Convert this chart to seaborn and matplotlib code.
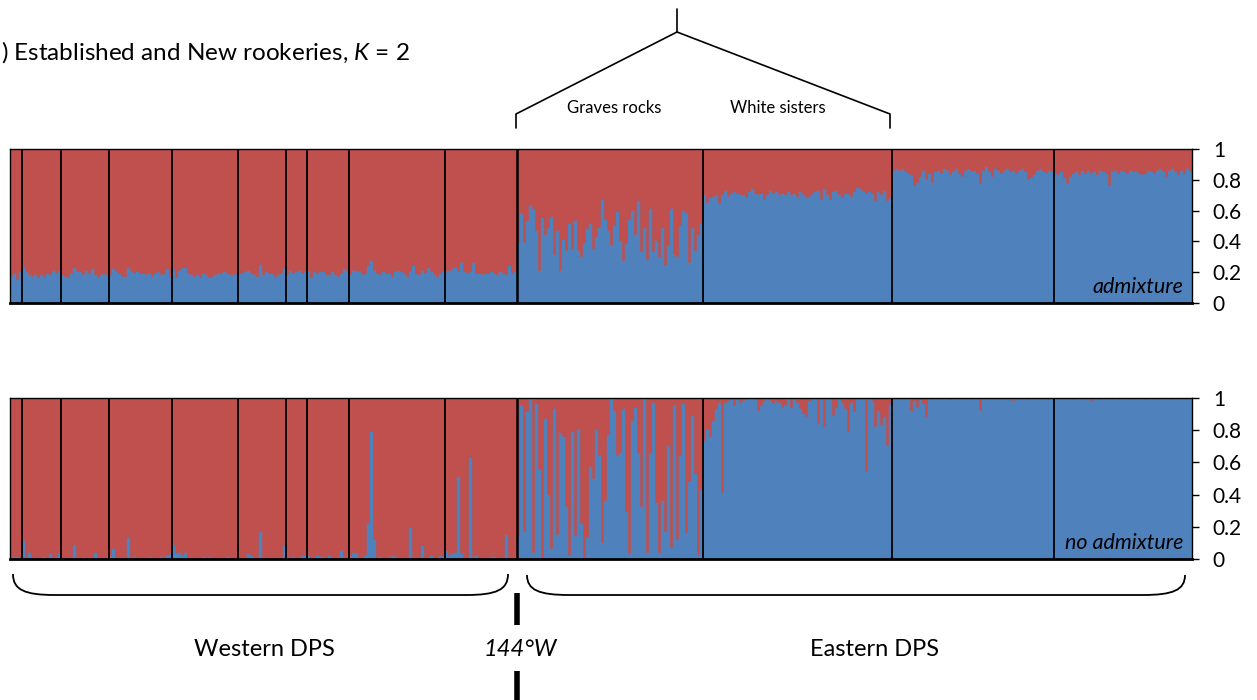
"""STRUCTURE-style admixture bar plot, K = 2, two runs (admixture / no admixture)."""
import numpy as np
import pandas as pd
import matplotlib
matplotlib.use("Agg")
import matplotlib.pyplot as plt
from matplotlib.path import Path
from matplotlib.patches import PathPatch
import seaborn as sns

sns.set_style("white")
plt.rcParams["font.family"] = ["Lato", "DejaVu Sans"]
plt.rcParams["mathtext.fontset"] = "custom"
plt.rcParams["mathtext.rm"] = "Lato"
plt.rcParams["mathtext.it"] = "Lato:italic"
plt.rcParams["text.color"] = "black"

RED = "#C0504D"
BLUE = "#4F81BD"

# ---------------------------------------------------------------------------
# Data: membership in the blue cluster per individual, one list per rookery
# (west -> east).  Red = 1 - blue.
# ---------------------------------------------------------------------------
admix = [
    [0.17, 0.19, 0.15, 0.20],
    [0.23, 0.20, 0.18, 0.17, 0.18, 0.16, 0.18, 0.17, 0.19, 0.18, 0.21, 0.19, 0.21],
    [0.18, 0.17, 0.16, 0.19, 0.23, 0.20, 0.20, 0.18, 0.21, 0.19, 0.22, 0.18, 0.16, 0.18, 0.19, 0.18],
    [0.18, 0.22, 0.20, 0.19, 0.17, 0.17, 0.23, 0.20, 0.19, 0.20, 0.19, 0.19, 0.18, 0.19, 0.17, 0.19,
     0.20, 0.18, 0.19, 0.22, 0.17],
    [0.22, 0.16, 0.21, 0.23, 0.23, 0.19, 0.18, 0.17, 0.18, 0.16, 0.19, 0.18, 0.16, 0.17, 0.18, 0.19,
     0.19, 0.20, 0.19, 0.18, 0.18, 0.19],
    [0.19, 0.19, 0.20, 0.21, 0.19, 0.18, 0.17, 0.25, 0.18, 0.20, 0.19, 0.19, 0.17, 0.18, 0.19, 0.23],
    [0.18, 0.21, 0.19, 0.20, 0.21, 0.19, 0.20],
    [0.21, 0.16, 0.20, 0.19, 0.20, 0.20, 0.18, 0.18, 0.20, 0.18, 0.17, 0.19, 0.22, 0.20],
    [0.18, 0.21, 0.21, 0.20, 0.18, 0.19, 0.24, 0.27, 0.21, 0.19, 0.18, 0.20, 0.19, 0.19, 0.17, 0.20,
     0.21, 0.20, 0.19, 0.17, 0.20, 0.24, 0.19, 0.18, 0.21, 0.19, 0.23, 0.20, 0.18, 0.17, 0.19, 0.20],
    [0.21, 0.21, 0.22, 0.23, 0.20, 0.26, 0.20, 0.19, 0.20, 0.26, 0.19, 0.19, 0.18, 0.19, 0.19, 0.20,
     0.19, 0.18, 0.20, 0.19, 0.18, 0.24, 0.19, 0.20],
    # Graves rocks
    [0.39, 0.58, 0.39, 0.53, 0.63, 0.61, 0.47, 0.21, 0.55, 0.44, 0.49, 0.56, 0.31, 0.47, 0.21, 0.41,
     0.34, 0.51, 0.35, 0.53, 0.34, 0.30, 0.39, 0.48, 0.51, 0.35, 0.43, 0.49, 0.67, 0.54, 0.47, 0.37,
     0.50, 0.59, 0.40, 0.27, 0.38, 0.54, 0.60, 0.44, 0.66, 0.33, 0.49, 0.28, 0.61, 0.33, 0.40, 0.29,
     0.49, 0.24, 0.37, 0.61, 0.31, 0.30, 0.50, 0.60, 0.58, 0.26, 0.49, 0.34, 0.44, 0.51],
    # White sisters
    [0.70, 0.65, 0.68, 0.69, 0.70, 0.64, 0.70, 0.73, 0.69, 0.71, 0.72, 0.71, 0.70, 0.70, 0.68, 0.72,
     0.74, 0.71, 0.70, 0.71, 0.67, 0.70, 0.73, 0.71, 0.72, 0.70, 0.71, 0.70, 0.72, 0.70, 0.71, 0.69,
     0.72, 0.70, 0.68, 0.69, 0.71, 0.72, 0.73, 0.67, 0.74, 0.70, 0.67, 0.72, 0.73, 0.70, 0.68, 0.71,
     0.71, 0.69, 0.72, 0.75, 0.74, 0.73, 0.71, 0.72, 0.71, 0.66, 0.72, 0.70, 0.73, 0.66, 0.69],
    [0.86, 0.87, 0.86, 0.87, 0.85, 0.84, 0.83, 0.76, 0.78, 0.82, 0.86, 0.80, 0.84, 0.78, 0.85, 0.86,
     0.84, 0.87, 0.86, 0.83, 0.85, 0.87, 0.84, 0.82, 0.86, 0.87, 0.85, 0.86, 0.84, 0.77, 0.86, 0.88,
     0.85, 0.82, 0.87, 0.86, 0.84, 0.86, 0.87, 0.85, 0.86, 0.84, 0.86, 0.87, 0.85, 0.80, 0.81, 0.83,
     0.86, 0.87, 0.85, 0.84, 0.86, 0.85],
    [0.84, 0.83, 0.85, 0.81, 0.77, 0.82, 0.84, 0.85, 0.83, 0.86, 0.84, 0.86, 0.84, 0.85, 0.83, 0.86,
     0.85, 0.84, 0.76, 0.85, 0.86, 0.84, 0.86, 0.85, 0.84, 0.86, 0.85, 0.85, 0.84, 0.83, 0.84, 0.86,
     0.85, 0.84, 0.86, 0.87, 0.85, 0.82, 0.86, 0.87, 0.85, 0.83, 0.86, 0.84, 0.87, 0.85],
]

no_admix = [
    [0.0, 0.01, 0.01, 0.0],
    [0.11, 0.0, 0.04, 0.0, 0.0, 0.0, 0.0, 0.01, 0.0, 0.03, 0.0, 0.01, 0.03],
    [0.0, 0.0, 0.0, 0.0, 0.09, 0.0, 0.0, 0.0, 0.0, 0.0, 0.0, 0.04, 0.0, 0.0, 0.0, 0.0],
    [0.01, 0.06, 0.0, 0.0, 0.0, 0.0, 0.13, 0.0, 0.01, 0.0, 0.0, 0.0, 0.0, 0.01, 0.0, 0.0,
     0.0, 0.01, 0.0, 0.02, 0.03],
    [0.09, 0.03, 0.04, 0.02, 0.04, 0.0, 0.0, 0.0, 0.0, 0.0, 0.01, 0.0, 0.01, 0.0, 0.0, 0.0,
     0.0, 0.0, 0.01, 0.0, 0.0, 0.0],
    [0.0, 0.0, 0.0, 0.03, 0.02, 0.0, 0.0, 0.17, 0.0, 0.0, 0.0, 0.0, 0.0, 0.0, 0.0, 0.09],
    [0.01, 0.0, 0.01, 0.0, 0.0, 0.02, 0.02],
    [0.02, 0.0, 0.0, 0.02, 0.01, 0.01, 0.0, 0.02, 0.0, 0.0, 0.0, 0.05, 0.0, 0.0],
    [0.01, 0.04, 0.03, 0.0, 0.0, 0.02, 0.22, 0.79, 0.12, 0.0, 0.01, 0.0, 0.0, 0.0, 0.02, 0.01,
     0.0, 0.0, 0.0, 0.0, 0.19, 0.0, 0.0, 0.0, 0.08, 0.0, 0.0, 0.02, 0.0, 0.0, 0.02, 0.01],
    [0.05, 0.02, 0.03, 0.04, 0.51, 0.03, 0.0, 0.0, 0.63, 0.01, 0.02, 0.0, 0.0, 0.0, 0.0, 0.01,
     0.01, 0.0, 0.0, 0.0, 0.15, 0.0, 0.0, 0.0],
    # Graves rocks
    [0.14, 0.95, 0.17, 0.91, 1.0, 0.04, 0.96, 0.55, 0.0, 0.87, 0.40, 0.06, 0.93, 0.15, 0.78, 0.76,
     0.32, 0.02, 0.79, 0.14, 0.80, 0.22, 0.0, 0.13, 0.57, 0.50, 0.80, 0.64, 0.10, 0.36, 0.77, 1.0,
     0.92, 0.64, 0.66, 0.93, 0.29, 0.03, 0.86, 0.94, 0.65, 0.32, 1.0, 0.04, 0.65, 0.97, 0.35, 0.04,
     0.36, 0.17, 0.70, 0.07, 0.95, 0.12, 0.64, 0.96, 0.16, 0.48, 0.89, 0.53, 0.02, 0.43],
    # White sisters
    [0.73, 0.80, 0.76, 0.86, 0.93, 0.97, 0.41, 0.97, 0.98, 0.99, 0.95, 0.99, 0.97, 0.98, 0.99, 1.0,
     1.0, 0.99, 0.92, 0.95, 0.98, 1.0, 0.98, 0.96, 0.98, 0.97, 0.94, 0.95, 1.0, 0.94, 1.0, 0.97,
     0.93, 0.90, 0.88, 0.98, 1.0, 1.0, 0.84, 1.0, 0.82, 1.0, 0.99, 0.89, 0.94, 1.0, 0.97, 0.93,
     0.79, 0.97, 0.91, 1.0, 1.0, 0.99, 0.54, 1.0, 0.98, 0.82, 0.92, 0.83, 0.88, 0.70, 0.96],
    [1.0, 0.99, 1.0, 1.0, 0.99, 1.0, 0.92, 0.98, 0.94, 0.99, 0.96, 0.88, 1.0, 0.99, 1.0, 1.0,
     0.99, 1.0, 1.0, 0.99, 1.0, 1.0, 1.0, 0.99, 1.0, 1.0, 0.99, 1.0, 1.0, 0.92, 1.0, 1.0,
     1.0, 0.99, 1.0, 1.0, 1.0, 1.0, 0.99, 1.0, 0.98, 0.99, 1.0, 1.0, 1.0, 0.99, 1.0, 1.0,
     1.0, 0.99, 1.0, 1.0, 0.99, 1.0],
    [1.0, 0.99, 1.0, 0.99, 1.0, 1.0, 0.99, 1.0, 1.0, 0.99, 1.0, 1.0, 0.98, 1.0, 1.0, 0.99,
     1.0, 1.0, 1.0, 0.99, 1.0, 0.99, 1.0, 1.0, 1.0, 0.99, 1.0, 1.0, 1.0, 1.0, 0.99, 1.0,
     1.0, 1.0, 0.99, 1.0, 1.0, 1.0, 1.0, 0.99, 1.0, 1.0, 1.0, 0.99, 1.0, 1.0],
]

ytick_vals = [0, 0.2, 0.4, 0.6, 0.8, 1]
ytick_labels = ["0", "0.2", "0.4", "0.6", "0.8", "1"]
WEST_EAST_SPLIT = 10  # first eastern rookery (Graves rocks)


def structure_panel(ax, groups, note):
    q = np.concatenate([np.asarray(g, dtype=float) for g in groups])
    d = pd.DataFrame({"ind": np.arange(len(q)), "blue": q, "total": 1.0})
    sns.barplot(data=d, x="ind", y="total", native_scale=True, width=1, color=RED,
                saturation=1, errorbar=None, linewidth=0.3, edgecolor=RED, ax=ax)
    sns.barplot(data=d, x="ind", y="blue", native_scale=True, width=1, color=BLUE,
                saturation=1, errorbar=None, linewidth=0.3, edgecolor=BLUE, ax=ax)
    bounds = np.cumsum([len(g) for g in groups])[:-1] - 0.5
    for i, b in enumerate(bounds):
        ax.axvline(b, color="black", lw=1.8 if i == WEST_EAST_SPLIT - 1 else 1.3, zorder=5)
    ax.set_xlim(-0.5, len(q) - 0.5)
    ax.set_ylim(0, 1)
    ax.set_xticks([])
    ax.set_xlabel("")
    ax.set_ylabel("")
    ax.yaxis.tick_right()
    ax.set_yticks(ytick_vals, ytick_labels)
    ax.tick_params(axis="y", direction="out", length=5, width=1, pad=10,
                   labelsize=15, colors="black")
    for side, s in ax.spines.items():
        s.set_visible(True)
        s.set_color("black")
        s.set_linewidth(2.0 if side == "bottom" else 1.0)
        s.set_zorder(6)
    ax.text(0.993, 0.04, note, transform=ax.transAxes, ha="right", va="bottom",
            fontsize=15.5, style="italic", zorder=7)


W, H = 1257, 700
fig = plt.figure(figsize=(W / 100, H / 100), dpi=100)


def px_axes(x0, y0, x1, y1):
    return fig.add_axes([x0 / W, 1 - y1 / H, (x1 - x0) / W, (y1 - y0) / H])


ax_top = px_axes(10, 149, 1192, 303)
ax_bot = px_axes(10, 398, 1192, 559)
structure_panel(ax_top, admix, "admixture")
structure_panel(ax_bot, no_admix, "no admixture")

# annotation layer in pixel coordinates
ov = fig.add_axes([0, 0, 1, 1], zorder=10)
ov.set_xlim(0, W)
ov.set_ylim(H, 0)
ov.axis("off")

ov.text(1, 52, ") Established and New rookeries, $K$ = 2", fontsize=17.5, va="center", ha="left")

# bracket over Graves rocks / White sisters
ov.plot([677, 677], [9, 32], color="black", lw=1.2)
ov.plot([516, 516, 677, 890, 890], [128, 114, 32, 114, 128], color="black", lw=1.2)
ov.text(614, 108, "Graves rocks", fontsize=12, ha="center", va="center")
ov.text(778, 108, "White sisters", fontsize=12, ha="center", va="center")


def brace(x0, x1, ytop, ybot):
    verts = [(x0, ytop), (x0, ybot - 5), (x0 + 12, ybot), (x0 + 42, ybot),
             (x1 - 42, ybot),
             (x1 - 12, ybot), (x1, ybot - 5), (x1, ytop)]
    codes = [Path.MOVETO, Path.CURVE4, Path.CURVE4, Path.CURVE4,
             Path.LINETO, Path.CURVE4, Path.CURVE4, Path.CURVE4]
    ov.add_patch(PathPatch(Path(verts, codes), fill=False, lw=1.3, edgecolor="black"))


brace(13, 508, 574, 595)
brace(527, 1185, 575, 595)

ov.plot([517, 517], [593, 625], color="black", lw=4, solid_capstyle="butt")
ov.plot([517, 517], [671, 700], color="black", lw=4, solid_capstyle="butt")
ov.text(264, 650, "Western DPS", fontsize=17, ha="center", va="center")
ov.text(520, 650, "144°W", fontsize=17, ha="center", va="center", style="italic")
ov.text(875, 650, "Eastern DPS", fontsize=17, ha="center", va="center")

fig.savefig("out.png", dpi=100)
